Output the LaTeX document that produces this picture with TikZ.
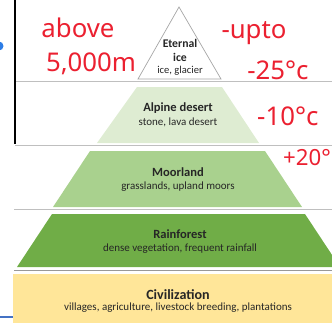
\documentclass[tikz,border=0pt]{standalone}
\usepackage{fontspec}
\setmainfont{Carlito}
\newfontfamily\handfont{Noto Sans}
\usetikzlibrary{positioning}

\definecolor{alpinegreen}{RGB}{222,236,210}
\definecolor{moorgreen}{RGB}{169,209,142}
\definecolor{rainfgreen}{RGB}{112,173,71}
\definecolor{civyellow}{RGB}{255,230,153}
\definecolor{divgray}{RGB}{191,191,191}
\definecolor{penred}{RGB}{235,32,48}
\definecolor{dotblue}{RGB}{45,125,230}
\definecolor{barblue}{RGB}{68,114,196}

\begin{document}
\begin{tikzpicture}[
    x=0.3mm, y=-0.3mm,
    % Style definitions
    title/.style={font=\bfseries\fontsize{10.7}{12}\selectfont, text=black!85, inner sep=0pt},
    subtitle/.style={font=\fontsize{9.4}{11}\selectfont, text=black!85, inner sep=0pt},
    hand/.style={font=\handfont\fontsize{22}{22}\selectfont, text=penred, inner sep=0pt},
    divider/.style={draw=divgray, line width=0.8pt},
    tier/.style={draw=none},
]
\useasboundingbox (0,0) rectangle (332,323);

%% ---------- FRAME ----------
\fill[civyellow] (13,274) rectangle (332,323);
\draw[divider] (15,81) -- (332,81);
\draw[divider] (15,145.5) -- (332,145.5);
\draw[divider] (14,209) -- (332,209);
\draw[divider, draw=black!40, line width=1.1pt] (14,270.5) -- (332,270.5);
\draw[black, line width=1.3pt] (15,0) -- (15,144);
\fill[dotblue] (-1,46) circle (4.5);
\draw[barblue, line width=2.2pt] (0,317) -- (13,317);

%% ---------- TIERS ----------
\draw[tier, draw=black!35, fill=white, line width=0.6pt] (179,7) -- (221,79) -- (138,79) -- cycle;
\fill[alpinegreen] (137,87) -- (222,87) -- (259,143) -- (97,143) -- cycle;
\fill[moorgreen] (90,151) -- (265,151) -- (302,207) -- (53,207) -- cycle;
\fill[rainfgreen] (52,214) -- (305,214) -- (340,267) -- (17,267) -- cycle;

%% ---------- LABELS ----------
\node[title, font=\bfseries\fontsize{10}{12}\selectfont] (eternal) at (180,43) {Eternal};
\node[title, font=\bfseries\fontsize{10}{12}\selectfont] (eternal_ice) at (180,57) {ice};
\node[subtitle, font=\fontsize{9}{11}\selectfont] (eternal_sub) at (180,71) {ice, glacier};

\node[title] (alpine) at (178,108) {Alpine desert};
\node[subtitle] (alpine_sub) at (178,122) {stone, lava desert};

\node[title] (moor) at (178,172) {Moorland};
\node[subtitle] (moor_sub) at (178,187) {grasslands, upland moors};

\node[title] (rainf) at (180,234) {Rainforest};
\node[subtitle] (rainf_sub) at (180,249) {dense vegetation, frequent rainfall};

\node[title, font=\bfseries\fontsize{12}{14}\selectfont] (civ) at (178,295) {Civilization};
\node[subtitle] (civ_sub) at (178,308) {villages, agriculture, livestock breeding, plantations};

%% ---------- HANDWRITTEN NOTES ----------
\node[hand] (above) at (78,28) {above};
\node[hand] (height) at (91,64) {5,000m};
\node[hand] (upto) at (254,33) {-upto};
\node[hand] (temp_ice) at (278,70) {-25°c};
\node[hand, anchor=west] (temp_alpine) at (257,116) {-10°c};
\node[hand, anchor=west, font=\handfont\fontsize{19}{19}\selectfont] (temp_moor) at (283,158) {+20°};

\end{tikzpicture}
\end{document}
